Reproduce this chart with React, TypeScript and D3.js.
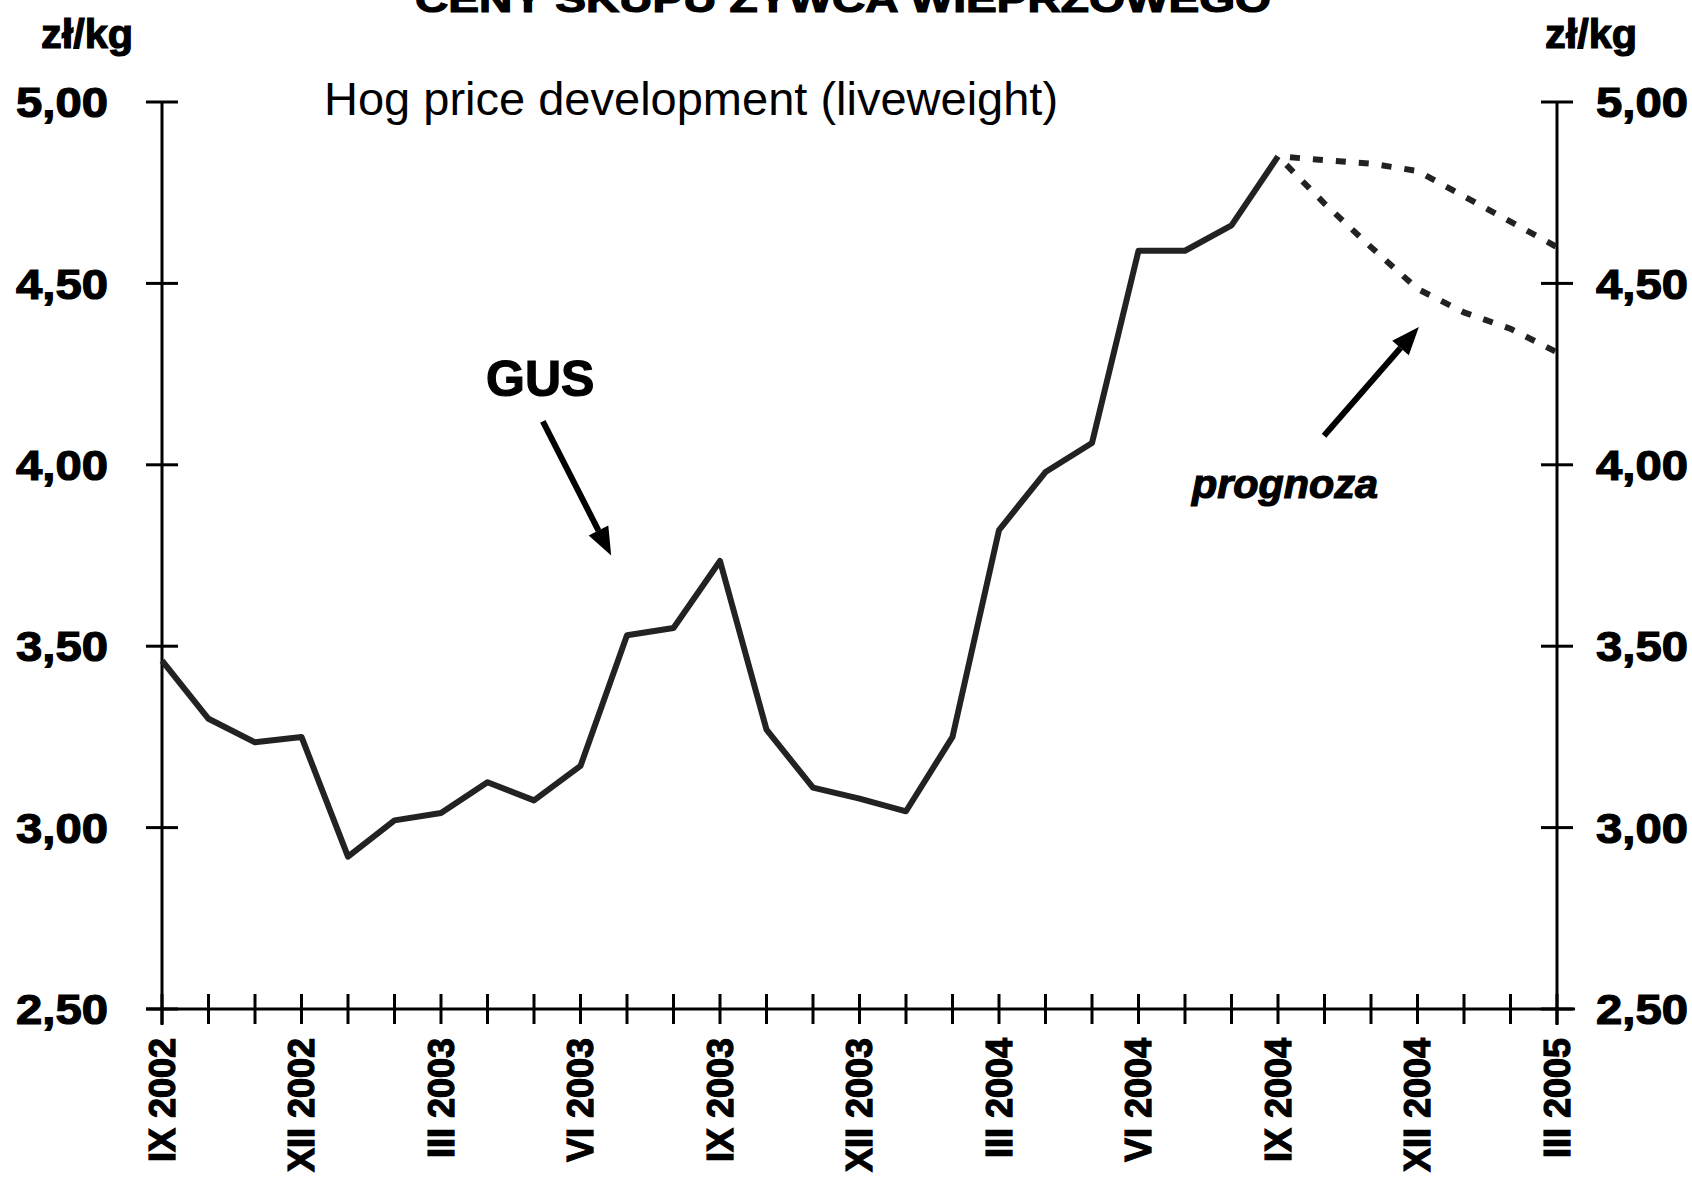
import { useEffect, useRef } from 'react'
import * as d3 from 'd3'

// months on the x axis, IX 2002 .. III 2005
const months = [
  'IX 2002', 'X 2002', 'XI 2002', 'XII 2002', 'I 2003', 'II 2003', 'III 2003', 'IV 2003',
  'V 2003', 'VI 2003', 'VII 2003', 'VIII 2003', 'IX 2003', 'X 2003', 'XI 2003', 'XII 2003',
  'I 2004', 'II 2004', 'III 2004', 'IV 2004', 'V 2004', 'VI 2004', 'VII 2004', 'VIII 2004',
  'IX 2004', 'X 2004', 'XI 2004', 'XII 2004', 'I 2005', 'II 2005', 'III 2005'
]
const tickLabels = ['IX 2002', 'XII 2002', 'III 2003', 'VI 2003', 'IX 2003', 'XII 2003', 'III 2004', 'VI 2004', 'IX 2004', 'XII 2004', 'III 2005']

// GUS hog price, zł/kg
const gusPrices = [
  3.46, 3.30, 3.235, 3.25, 2.92, 3.02, 3.04, 3.125, 3.075, 3.17, 3.53, 3.55, 3.735,
  3.27, 3.11, 3.08, 3.045, 3.25, 3.82, 3.98, 4.06, 4.59, 4.59, 4.66, 4.85
]
// forecasts from IX 2004 onwards
const forecastMonths = ['IX 2004', 'X 2004', 'XI 2004', 'XII 2004', 'I 2005', 'II 2005', 'III 2005']
const forecastHigh = [4.85, 4.84, 4.83, 4.81, 4.74, 4.67, 4.60]
const forecastLow = [4.85, 4.72, 4.60, 4.485, 4.42, 4.375, 4.31]

const yTicks = [2.5, 3, 3.5, 4, 4.5, 5]

const W = 1692
const H = 1177
const FONT = '"Liberation Sans", Arial, sans-serif'

export default function App() {
  const svgRef = useRef<SVGSVGElement>(null)

  useEffect(() => {
    if (!svgRef.current) return
    const svg = d3.select(svgRef.current)
    svg.selectAll('*').remove()

    const left = 162
    const right = 1557
    const top = 102
    const bottom = 1009

    const x = d3.scalePoint<string>().domain(months).range([left, right])
    const xi = d3.scaleLinear().domain([0, months.length - 1]).range([left, right])
    const y = d3.scaleLinear().domain([2.5, 5]).range([bottom, top])
    const fmt = (v: number) => d3.format('.2f')(v).replace('.', ',')

    // heavy bold text, like the old bitmap font
    const heavy = (sel: d3.Selection<SVGTextElement, unknown, null, undefined>, size: number) =>
      sel.style('font-family', FONT).style('font-weight', 'bold').style('font-size', `${size}px`)
        .attr('stroke', '#000').attr('stroke-width', 1.2).attr('fill', '#000')

    // title, mostly cut off at the top
    heavy(svg.append('text')
      .attr('x', 415).attr('y', 12)
      .attr('textLength', 856).attr('lengthAdjust', 'spacingAndGlyphs'), 36)
      .text('CENY SKUPU ŻYWCA WIEPRZOWEGO')

    svg.append('text')
      .attr('x', 324).attr('y', 115)
      .style('font-family', FONT).style('font-size', '47px')
      .text('Hog price development (liveweight)')

    // unit labels
    ;[41, 1545].forEach(ux => {
      heavy(svg.append('text')
        .attr('x', ux).attr('y', 48)
        .attr('textLength', 92).attr('lengthAdjust', 'spacingAndGlyphs'), 40)
        .text('zł/kg')
    })

    const axisColor = '#000'

    // vertical axes
    ;[left, right].forEach(ax => {
      svg.append('line')
        .attr('x1', ax).attr('x2', ax).attr('y1', y(5)).attr('y2', bottom + 16)
        .attr('stroke', axisColor).attr('stroke-width', 3)
      yTicks.forEach(t => {
        svg.append('line')
          .attr('x1', ax - 16).attr('x2', ax + 16).attr('y1', y(t)).attr('y2', y(t))
          .attr('stroke', axisColor).attr('stroke-width', 3)
      })
    })

    // y labels
    yTicks.forEach(t => {
      ;[16, 1596].forEach(lx => {
        heavy(svg.append('text')
          .attr('x', lx).attr('y', y(t)).attr('dy', '0.36em')
          .attr('textLength', 92).attr('lengthAdjust', 'spacingAndGlyphs'), 42)
          .text(fmt(t))
      })
    })

    // x axis
    svg.append('line')
      .attr('x1', left - 16).attr('x2', right + 18).attr('y1', bottom).attr('y2', bottom)
      .attr('stroke', axisColor).attr('stroke-width', 3)
    months.forEach(m => {
      svg.append('line')
        .attr('x1', x(m)!).attr('x2', x(m)!).attr('y1', bottom - 15).attr('y2', bottom + 15)
        .attr('stroke', axisColor).attr('stroke-width', 3)
    })
    tickLabels.forEach(m => {
      heavy(svg.append('text')
        .attr('transform', `translate(${x(m)},1038) rotate(-90)`)
        .attr('text-anchor', 'end').attr('dy', '0.36em'), 36)
        .text(m)
    })

    // GUS line
    const line = d3.line<number>()
      .x((_, i) => x(months[i])!)
      .y(d => y(d))
    svg.append('path')
      .datum(gusPrices)
      .attr('d', line)
      .attr('fill', 'none').attr('stroke', '#222').attr('stroke-width', 6)
      .attr('stroke-linejoin', 'round')

    // forecasts
    const fLine = d3.line<number>()
      .x((_, i) => x(forecastMonths[i])!)
      .y(d => y(d))
    ;[forecastHigh, forecastLow].forEach(s => {
      svg.append('path')
        .datum(s)
        .attr('d', fLine)
        .attr('fill', 'none').attr('stroke', '#222').attr('stroke-width', 6)
        .attr('stroke-dasharray', '10 13')
        .attr('stroke-dashoffset', -12)
    })

    // annotations
    const arrow = (x1: number, y1: number, x2: number, y2: number) => {
      const a = Math.atan2(y2 - y1, x2 - x1)
      const len = 28
      const wid = 11
      const bx = x2 - len * Math.cos(a)
      const by = y2 - len * Math.sin(a)
      svg.append('line')
        .attr('x1', x1).attr('y1', y1).attr('x2', bx).attr('y2', by)
        .attr('stroke', '#000').attr('stroke-width', 6)
      svg.append('path')
        .attr('d', `M${x2},${y2} L${bx + wid * Math.sin(a)},${by - wid * Math.cos(a)} L${bx - wid * Math.sin(a)},${by + wid * Math.cos(a)} Z`)
        .attr('fill', '#000')
    }

    heavy(svg.append('text')
      .attr('x', 486).attr('y', 396), 50)
      .text('GUS')
    arrow(xi(8.19), y(4.12), xi(9.66), y(3.75))

    heavy(svg.append('text')
      .attr('x', 1192).attr('y', 498)
      .attr('textLength', 186).attr('lengthAdjust', 'spacingAndGlyphs')
      .style('font-style', 'italic'), 40)
      .style('font-style', 'italic')
      .text('prognoza')
    arrow(xi(24.99), y(4.08), xi(27.03), y(4.38))
  }, [])

  return (
    <div style={{ position: 'absolute', left: 0, top: 0, background: '#fff' }}>
      <svg ref={svgRef} width={W} height={H} style={{ display: 'block' }} />
    </div>
  )
}
